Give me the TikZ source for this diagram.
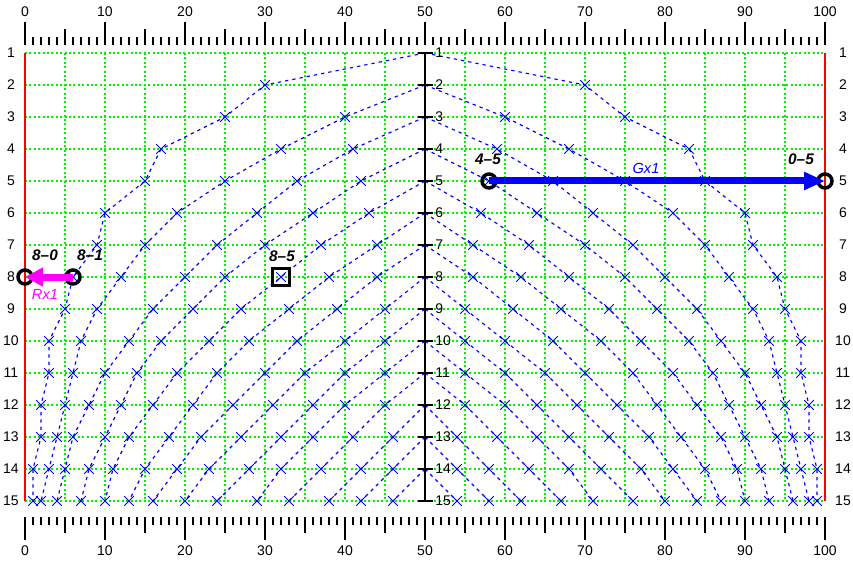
\documentclass[tikz,border=0pt]{standalone}
\usepackage{fontspec}
\setmainfont{Liberation Sans}
\usetikzlibrary{arrows.meta,shapes.misc}
\definecolor{gridgreen}{RGB}{0,240,0}
\definecolor{frontblue}{RGB}{0,0,255}
\definecolor{rxmag}{RGB}{255,0,255}
\newcommand\frontcurve[2]{%
  \draw[front] (50,#1) \foreach \x [count=\k] in {#2} { -- (\x,{#1+\k}) };
  \draw[front] (50,#1) \foreach \x [count=\k] in {#2} { -- ({100-\x},{#1+\k}) };
  \foreach \x [count=\k] in {#2} {
    \node[xm] (mL#1-\k) at (\x,{#1+\k}) {};
    \node[xm] (mR#1-\k) at ({100-\x},{#1+\k}) {};
  }%
}
\begin{document}
\begin{tikzpicture}[x=0.75pt,y=-0.75pt,
  num/.style={inner sep=0pt, font=\fontsize{10.5}{12}\selectfont},
  tick/.style={line width=0.8pt, black},
  gridln/.style={gridgreen, line width=0.8pt, dash pattern=on 1.5pt off 1.8pt},
  front/.style={frontblue, line width=0.85pt, dash pattern=on 2.5pt off 3pt},
  xm/.style={cross out, draw=frontblue, line width=0.65pt, minimum size=6.5pt, inner sep=0pt},
  ring/.style={circle, draw=black, line width=2.6pt, minimum size=10.5pt, inner sep=0pt},
  sq/.style={rectangle, draw=black, line width=2.4pt, minimum size=13pt, inner sep=0pt},
  tag/.style={inner sep=0pt, font=\fontsize{11.5}{13}\selectfont\bfseries\itshape},
  lbl/.style={inner sep=0pt, font=\fontsize{11}{13}\selectfont\itshape},
  redln/.style={red, line width=1.9pt},
  axis/.style={black, line width=1.4pt}]
\useasboundingbox (0,0) rectangle (853,563);
% rulers
\foreach \i in {0,...,100}{
  \pgfmathtruncatemacro\m{mod(\i,10)}
  \pgfmathtruncatemacro\f{mod(\i,5)}
  \ifnum\m=0 \def\tl{23}\else\ifnum\f=0 \def\tl{16}\else\def\tl{8}\fi\fi
  \draw[tick] ({25+8*\i},45) -- ({25+8*\i},{45-\tl});
  \draw[tick] ({25+8*\i},517) -- ({25+8*\i},{517+\tl});
}
\foreach \i in {0,10,...,100}{
  \node[num] (top\i) at ({25+8*\i},12) {\i};
  \node[num] (bot\i) at ({25+8*\i},551) {\i};
}
\begin{scope}[shift={(25,21)},x=6pt,y=-24pt]
  % grid
  \foreach \g in {5,10,...,45,55,60,...,95} \draw[gridln] (\g,1) -- (\g,15);
  \foreach \r in {1,...,15} \draw[gridln] (0,\r) -- (100,\r);
  % fronts
  \frontcurve{1}{30,25,17,15,10,9,6,5,3,3,2,2,1,1}
  \frontcurve{2}{40,32,25,19,15,12,9,7,6,5,4,3,2}
  \frontcurve{3}{41,34,29,24,20,16,13,10,8,6,5,4}
  \frontcurve{4}{42,36,30,25,21,17,14,12,10,8,7}
  \frontcurve{5}{43,37,32,27,23,19,16,13,11,10}
  \frontcurve{6}{44,38,33,28,24,21,18,15,13}
  \frontcurve{7}{44,39,34,30,26,22,19,16}
  \frontcurve{8}{45,40,35,31,27,23,20}
  \frontcurve{9}{45,40,36,32,28,24}
  \frontcurve{10}{45,40,36,32,29}
  \frontcurve{11}{45,41,37,33}
  \frontcurve{12}{46,42,38}
  \frontcurve{13}{46,42}
  \frontcurve{14}{46}
  % borders
  \draw[redln] (0,1) -- (0,15);
  \draw[redln] (100,1) -- (100,15);
  \draw[axis] (50,1) -- (50,15);
  % marked points
  \node[ring] (n80) at (0,8) {};
  \node[ring] (n81) at (6,8) {};
  \node[ring] (n45) at (58,5) {};
  \node[ring] (n05) at (100,5) {};
  \node[sq] (n85) at (32,8) {};
  \draw[frontblue, line width=5.25pt, -{Triangle[length=15.75pt,width=12.75pt]}] (n45.center) -- (n05.center);
  \draw[rxmag, line width=5.25pt, -{Triangle[length=13.5pt,width=13.5pt]}] (n81.center) -- (n80.center);
\end{scope}
% row labels and centre ticks
\foreach \r in {1,...,15}{
  \node[num] (rl\r) at (11,{21+32*\r}) {\r};
  \node[num] (rr\r) at (843,{21+32*\r}) {\r};
  \draw[axis] (418,{21+32*\r}) -- (433,{21+32*\r});
  \node[num, anchor=west] (rc\r) at (435,{21+32*\r}) {\r};
}
% tags
\node[tag] (t80) at (45,255) {8--0};
\node[tag] (t81) at (90,255) {8--1};
\node[tag] (t45) at (488,159) {4--5};
\node[tag] (t05) at (801,159) {0--5};
\node[tag] (t85) at (282,256) {8--5};
\node[lbl, text=frontblue] (gx) at (646,168) {Gx1};
\node[lbl, text=rxmag] (rx) at (45,294) {Rx1};
\end{tikzpicture}
\end{document}
